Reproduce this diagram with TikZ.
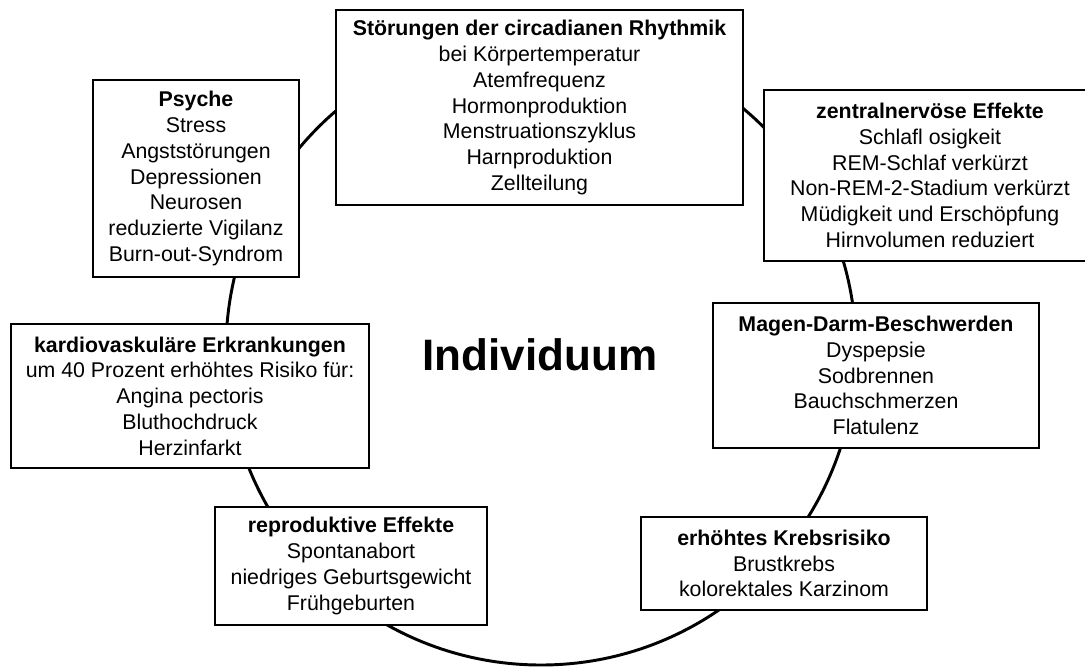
\documentclass[tikz,border=0pt]{standalone}
\usepackage{fontspec}
\setmainfont{Liberation Sans}
\begin{document}
\begin{tikzpicture}[x=0.75pt,y=-0.75pt,
  ring/.style={line width=2.2pt,draw=black},
  infobox/.style={draw=black,fill=white,line width=2.2pt,align=center,inner sep=0pt,
    font=\fontsize{16}{19.3}\selectfont},
  bigtitle/.style={font=\fontsize{33}{38}\selectfont\bfseries,inner sep=0pt}]
\clip (0,0) rectangle (1085,668);
\fill[white] (0,0) rectangle (1085,668);
% ring behind the boxes
\coordinate (ctr) at (541,350);
\draw[ring] (ctr) circle[radius=236.25pt];
\node[bigtitle] (indiv) at (540,355) {Individuum};
\node[infobox,minimum width=305.25pt,minimum height=146.25pt] (top) at (539.5,107.5)
  {\textbf{Störungen der circadianen Rhythmik}\\bei Körpertemperatur\\Atemfrequenz\\Hormonproduktion\\Menstruationszyklus\\Harnproduktion\\Zellteilung};
\node[infobox,minimum width=154.5pt,minimum height=147.75pt] (psyche) at (196,178.5)
  {\textbf{Psyche}\\Stress\\Angststörungen\\Depressionen\\Neurosen\\reduzierte Vigilanz\\Burn-out-Syndrom};
\node[infobox,minimum width=249pt,minimum height=128.25pt] (zns) at (930,175.5)
  {\textbf{zentralnervöse Effekte}\\Schlafl osigkeit\\REM-Schlaf verkürzt\\Non-REM-2-Stadium verkürzt\\Müdigkeit und Erschöpfung\\Hirnvolumen reduziert};
\node[infobox,minimum width=268.5pt,minimum height=108pt] (kardio) at (190,396)
  {\textbf{kardiovaskuläre Erkrankungen}\\um 40 Prozent erhöhtes Risiko für:\\Angina pectoris\\Bluthochdruck\\Herzinfarkt};
\node[infobox,minimum width=244.5pt,minimum height=108.75pt] (magen) at (876,375.5)
  {\textbf{Magen-Darm-Beschwerden}\\Dyspepsie\\Sodbrennen\\Bauchschmerzen\\Flatulenz};
\node[infobox,minimum width=204pt,minimum height=88.5pt] (repro) at (351,566)
  {\textbf{reproduktive Effekte}\\Spontanabort\\niedriges Geburtsgewicht\\Frühgeburten};
\node[infobox,minimum width=214.5pt,minimum height=69.75pt] (krebs) at (784,563.5)
  {\textbf{erhöhtes Krebsrisiko}\\Brustkrebs\\kolorektales Karzinom};
\end{tikzpicture}
\end{document}
